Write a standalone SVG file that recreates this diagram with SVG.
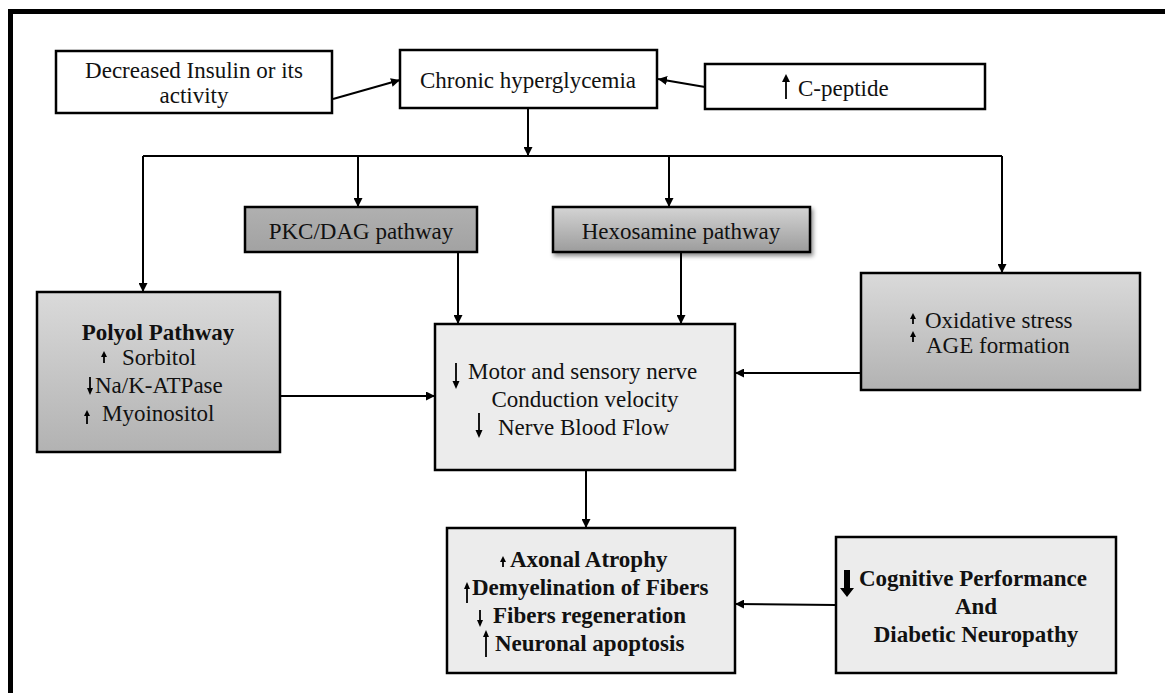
<svg xmlns="http://www.w3.org/2000/svg" width="1165" height="693" viewBox="0 0 1165 693" font-family="Liberation Serif, Times New Roman, serif" font-size="23">
<style>
.box{stroke:#000;stroke-width:2.5}
text{fill:#111}
.b{font-weight:bold}
.c{text-anchor:middle}
.con{fill:none;stroke:#000;stroke-width:2}
.sa{fill:none;stroke:#000;stroke-width:1.8}
.sh{fill:#000}
</style>
<defs>
<marker id="ah" viewBox="0 0 10 10" refX="10" refY="5" markerWidth="4.5" markerHeight="4.5" orient="auto" markerUnits="strokeWidth">
<path d="M0,0 L10,5 L0,10 z" fill="#000"/>
</marker>
<linearGradient id="g1" x1="0" y1="0" x2="0" y2="1">
<stop offset="0" stop-color="#dadada"/>
<stop offset="1" stop-color="#b2b2b2"/>
</linearGradient>
<linearGradient id="g2" x1="0" y1="0" x2="0" y2="1">
<stop offset="0" stop-color="#d4d4d4"/>
<stop offset="1" stop-color="#9c9c9c"/>
</linearGradient>
<linearGradient id="g3" x1="0" y1="0" x2="0" y2="1">
<stop offset="0" stop-color="#b0b0b0"/>
<stop offset="1" stop-color="#a2a2a2"/>
</linearGradient>
<filter id="shadow" x="-10%" y="-20%" width="125%" height="160%">
<feDropShadow dx="2" dy="3" stdDeviation="2" flood-color="#000" flood-opacity="0.45"/>
</filter>
</defs>

<path d="M10.5,693 V11.5 H1165" fill="none" stroke="#000" stroke-width="5"/>

<g id="connectors">
<path class="con" d="M333,99 L400,80" marker-end="url(#ah)"/>
<path class="con" d="M705,87 L658,79" marker-end="url(#ah)"/>
<path class="con" d="M528,108 V156" marker-end="url(#ah)"/>
<path class="con" d="M143,156 H1002"/>
<path class="con" d="M143,156 V292" marker-end="url(#ah)"/>
<path class="con" d="M358,156 V207" marker-end="url(#ah)"/>
<path class="con" d="M669,156 V207" marker-end="url(#ah)"/>
<path class="con" d="M1002,156 V273" marker-end="url(#ah)"/>
<path class="con" d="M458,252 V324" marker-end="url(#ah)"/>
<path class="con" d="M681,252 V324" marker-end="url(#ah)"/>
<path class="con" d="M280,396 H435" marker-end="url(#ah)"/>
<path class="con" d="M861,373 H735" marker-end="url(#ah)"/>
<path class="con" d="M586,470 V528" marker-end="url(#ah)"/>
<path class="con" d="M836,605 L735,604" marker-end="url(#ah)"/>
</g>

<g id="decreased-insulin">
<rect class="box" x="56" y="51" width="276" height="62" fill="#fff"/>
<text class="c" x="194" y="78">Decreased Insulin or its</text>
<text class="c" x="194" y="103">activity</text>
</g>

<g id="chronic-hyperglycemia">
<rect class="box" x="400" y="50" width="257" height="58" fill="#fff"/>
<text class="c" x="528" y="88">Chronic hyperglycemia</text>
</g>

<g id="c-peptide">
<rect class="box" x="705" y="64" width="280" height="45" fill="#fff"/>
<path class="sa" d="M786,99 V80"/><path class="sh" d="M782,82 L786,74 L790,82 z"/>
<text x="798" y="96">C-peptide</text>
</g>

<g id="pkc-dag">
<rect class="box" x="245" y="207" width="232" height="45" fill="url(#g3)"/>
<text class="c" x="361" y="239">PKC/DAG pathway</text>
</g>

<g id="hexosamine">
<rect class="box" x="553" y="207" width="257" height="45" fill="url(#g2)" filter="url(#shadow)"/>
<text class="c" x="681" y="239">Hexosamine pathway</text>
</g>

<g id="polyol">
<rect class="box" x="37" y="292" width="243" height="160" fill="url(#g1)"/>
<text class="b c" x="158" y="340">Polyol Pathway</text>
<path class="sa" d="M104,363 V356"/><path class="sh" d="M101,357 L104,351 L107,357 z"/>
<text x="122" y="365">Sorbitol</text>
<path class="sa" d="M90,377 V389"/><path class="sh" d="M87,388 L90,395 L93,388 z"/>
<text x="95" y="393">Na/K-ATPase</text>
<path class="sa" d="M87,424 V415"/><path class="sh" d="M84,416 L87,410 L90,416 z"/>
<text x="102" y="421">Myoinositol</text>
</g>

<g id="oxidative">
<rect class="box" x="861" y="273" width="279" height="117" fill="url(#g1)"/>
<path class="sa" d="M913,324 V318"/><path class="sh" d="M910,319 L913,313 L916,319 z"/>
<text x="925" y="328">Oxidative stress</text>
<path class="sa" d="M913,342 V336"/><path class="sh" d="M910,337 L913,331 L916,337 z"/>
<text x="926" y="353">AGE formation</text>
</g>

<g id="nerve-conduction">
<rect class="box" x="435" y="324" width="300" height="146" fill="#ececec"/>
<path class="sa" d="M456,363 V382"/><path class="sh" d="M452.5,381 L456,389 L459.5,381 z"/>
<text x="468" y="379">Motor and sensory nerve</text>
<text class="c" x="585" y="407">Conduction velocity</text>
<path class="sa" d="M479,413 V431"/><path class="sh" d="M475.5,430 L479,438 L482.5,430 z"/>
<text x="498" y="435">Nerve Blood Flow</text>
</g>

<g id="axonal">
<rect class="box" x="447" y="528" width="288" height="145" fill="#ececec"/>
<path class="sa" d="M503,567 V561"/><path class="sh" d="M500,562 L503,556 L506,562 z"/>
<text class="b" x="510" y="567">Axonal Atrophy</text>
<path class="sa" d="M467,603 V588"/><path class="sh" d="M464,589 L467,582 L470,589 z"/>
<text class="b" x="472" y="595">Demyelination of Fibers</text>
<path class="sa" d="M480,610 V621"/><path class="sh" d="M477,620 L480,627 L483,620 z"/>
<text class="b" x="493" y="623">Fibers regeneration</text>
<path class="sa" d="M486,657 V636"/><path class="sh" d="M483,637 L486,630 L489,637 z"/>
<text class="b" x="495" y="651">Neuronal apoptosis</text>
</g>

<g id="cognitive">
<rect class="box" x="836" y="537" width="280" height="136" fill="#ececec"/>
<path class="sh" d="M844,570 H850 V588 H854 L847,597 L840,588 H844 z"/>
<text class="b" x="859" y="586">Cognitive Performance</text>
<text class="b c" x="976" y="614">And</text>
<text class="b c" x="976" y="642">Diabetic Neuropathy</text>
</g>
</svg>
